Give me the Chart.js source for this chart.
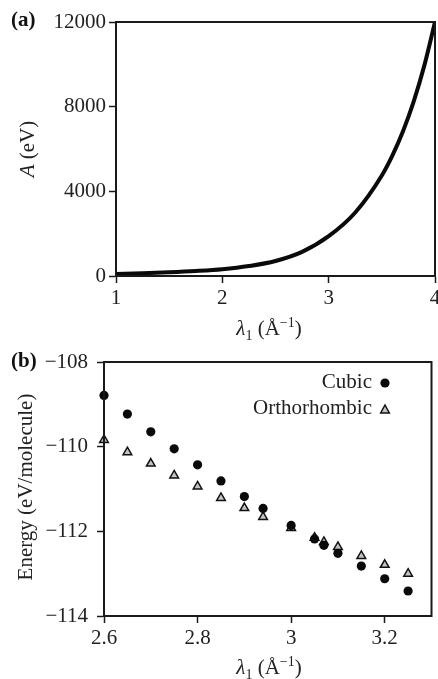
<!DOCTYPE html>
<html>
<head>
<meta charset="utf-8">
<script src="https://cdn.jsdelivr.net/npm/chart.js@4/dist/chart.umd.min.js"></script>
<style>
  html, body { margin: 0; padding: 0; background: #fff; }
  canvas { display: block; }
</style>
</head>
<body>
<canvas id="panelA" width="438" height="345"></canvas>
<canvas id="panelB" width="438" height="334"></canvas>
<script>
// ---- Panel (a): A versus lambda_1 ----
const lambdaA = [1.0, 1.25, 1.5, 1.75, 2.0, 2.25, 2.5, 2.75, 3.0, 3.25, 3.5, 3.6, 3.7, 3.8, 3.9, 4.0];
const valuesA = [100, 130, 175, 235, 320, 470, 710, 1140, 1880, 3000, 4750, 5700, 6850, 8250, 9950, 12000];
const ticksAx = [1, 2, 3, 4];
const ticksAy = [0, 4000, 8000, 12000];

// ---- Panel (b): energy per molecule versus lambda_1 ----
const lambdaB = [2.6, 2.65, 2.7, 2.75, 2.8, 2.85, 2.9, 2.94, 3.0, 3.05, 3.07, 3.1, 3.15, 3.2, 3.25];
const cubic = [-108.79, -109.23, -109.65, -110.05, -110.43, -110.81, -111.18, -111.46, -111.86, -112.18, -112.33, -112.52, -112.82, -113.12, -113.41];
const orthorhombic = [-109.84, -110.13, -110.40, -110.68, -110.94, -111.21, -111.45, -111.66, -111.92, -112.15, -112.25, -112.37, -112.58, -112.79, -113.00];
const ticksBx = [2.6, 2.8, 3.0, 3.2];
const ticksBy = [-114, -112, -110, -108];
const seriesNames = ['Cubic', 'Orthorhombic'];

const SERIF = '"Liberation Serif", "DejaVu Serif", serif';
const INK = '#1a1a1a';
const TEXT = '#222';

function fmt(v) {
  const s = String(Math.round(v * 100) / 100);
  return s.replace('-', '\u2212');
}

// draws a run of text pieces with different fonts / baseline shifts
function richWidth(ctx, parts) {
  let w = 0;
  for (const p of parts) { ctx.font = p.f; w += ctx.measureText(p.t).width; }
  return w;
}
function drawRich(ctx, parts, cx, cy) {
  const w = richWidth(ctx, parts);
  let x = cx - w / 2;
  ctx.textBaseline = 'alphabetic';
  ctx.textAlign = 'left';
  for (const p of parts) {
    ctx.font = p.f;
    ctx.fillText(p.t, x, cy + (p.dy || 0));
    x += ctx.measureText(p.t).width;
  }
}

const big = '21px ' + SERIF;
const bigIt = 'italic 21px ' + SERIF;
const small = '14px ' + SERIF;
const lambdaTitle = [
  { t: '\u03bb', f: bigIt },
  { t: '1', f: small, dy: 5 },
  { t: ' (\u00c5', f: big },
  { t: '\u22121', f: small, dy: -8 },
  { t: ')', f: big }
];

// frame, axis titles and panel letter
function decorations(opts) {
  return {
    id: 'decor',
    afterDraw(chart) {
      const ctx = chart.ctx;
      const a = chart.chartArea;
      ctx.save();
      ctx.strokeStyle = INK;
      ctx.lineWidth = 2;
      ctx.strokeRect(a.left, a.top, a.right - a.left, a.bottom - a.top);
      ctx.fillStyle = TEXT;
      drawRich(ctx, lambdaTitle, opts.xTitleX, opts.xTitleY);
      ctx.save();
      ctx.translate(opts.yTitleX, opts.yTitleY);
      ctx.rotate(-Math.PI / 2);
      drawRich(ctx, opts.yTitle, 0, 0);
      ctx.restore();
      ctx.font = 'bold 21px ' + SERIF;
      ctx.textAlign = 'left';
      ctx.textBaseline = 'middle';
      ctx.fillStyle = '#111';
      ctx.fillText(opts.letter, 11, opts.letterY);
      ctx.restore();
    }
  };
}

function axisStyle(ticks, padding, fitSize, isX) {
  return {
    type: 'linear',
    min: ticks[0],
    max: isX ? undefined : ticks[ticks.length - 1],
    afterBuildTicks(scale) { scale.ticks = ticks.map(v => ({ value: v })); },
    afterFit(scale) {
      if (isX) { scale.height = fitSize; } else { scale.width = fitSize; }
      scale.paddingLeft = 0; scale.paddingRight = 0;
      scale.paddingTop = 0; scale.paddingBottom = 0;
    },
    border: { display: true, color: INK, width: 2 },
    grid: { display: true, drawOnChartArea: false, drawTicks: true, tickLength: 7, tickWidth: 1.5, tickColor: INK },
    ticks: { color: TEXT, font: { family: SERIF, size: 21 }, padding: padding, maxRotation: 0, autoSkip: false, callback: v => fmt(v) },
    title: { display: false }
  };
}

// ---- chart (a) ----
const xA = axisStyle(ticksAx, 3, 69, true); xA.max = 4;
const yA = axisStyle(ticksAy, 3, 116, false);
new Chart(document.getElementById('panelA'), {
  type: 'line',
  data: {
    datasets: [{
      label: 'A',
      data: lambdaA.map((l, i) => ({ x: l, y: valuesA[i] })),
      borderColor: '#0a0a0a',
      borderWidth: 4,
      pointRadius: 0,
      cubicInterpolationMode: 'monotone',
      fill: false
    }]
  },
  options: {
    responsive: false,
    animation: false,
    layout: { padding: { left: 0, right: 3, top: 22, bottom: 0 } },
    plugins: { legend: { display: false }, tooltip: { enabled: false } },
    scales: { x: xA, y: yA }
  },
  plugins: [decorations({
    letter: '(a)', letterY: 21,
    xTitleX: 269, xTitleY: 335,
    yTitleX: 34, yTitleY: 149,
    yTitle: [{ t: 'A', f: bigIt }, { t: ' (eV)', f: big }]
  })]
});

// ---- chart (b) ----
const xB = axisStyle(ticksBx, 3, 63, true); xB.max = 3.3;
const yB = axisStyle(ticksBy, 9, 104, false);

const legendPlugin = {
  id: 'cornerLegend',
  afterDraw(chart) {
    const ctx = chart.ctx;
    const rows = [{ y: 37, my: 38 }, { y: 63, my: 65 }];
    ctx.save();
    chart.data.datasets.forEach((ds, i) => {
      ctx.font = big;
      ctx.fillStyle = TEXT;
      ctx.textAlign = 'right';
      ctx.textBaseline = 'middle';
      ctx.fillText(ds.label, 372, rows[i].y);
      const mx = 385, my = rows[i].my, r = ds.pointRadius;
      ctx.beginPath();
      if (ds.pointStyle === 'triangle') {
        ctx.moveTo(mx, my - r);
        ctx.lineTo(mx + r * 0.866, my + r * 0.5 + 0.5);
        ctx.lineTo(mx - r * 0.866, my + r * 0.5 + 0.5);
        ctx.closePath();
      } else {
        ctx.arc(mx, my, r, 0, Math.PI * 2);
      }
      ctx.fillStyle = ds.backgroundColor;
      ctx.fill();
      if (ds.borderWidth) { ctx.lineWidth = ds.borderWidth; ctx.strokeStyle = ds.borderColor; ctx.stroke(); }
    });
    ctx.restore();
  }
};

new Chart(document.getElementById('panelB'), {
  type: 'scatter',
  data: {
    datasets: [
      {
        label: seriesNames[0],
        data: lambdaB.map((l, i) => ({ x: l, y: cubic[i] })),
        pointStyle: 'circle',
        pointRadius: 4.6,
        backgroundColor: '#0a0a0a',
        borderColor: '#0a0a0a',
        borderWidth: 0
      },
      {
        label: seriesNames[1],
        data: lambdaB.map((l, i) => ({ x: l, y: orthorhombic[i] })),
        pointStyle: 'triangle',
        pointRadius: 5,
        backgroundColor: '#c4c4c4',
        borderColor: '#111',
        borderWidth: 1.5
      }
    ]
  },
  options: {
    responsive: false,
    animation: false,
    clip: false,
    layout: { padding: { left: 0, right: 3, top: 17, bottom: 0 } },
    plugins: { legend: { display: false }, tooltip: { enabled: false } },
    scales: { x: xB, y: yB }
  },
  plugins: [decorations({
    letter: '(b)', letterY: 17,
    xTitleX: 269, xTitleY: 329,
    yTitleX: 32, yTitleY: 142,
    yTitle: [{ t: 'Energy (eV/molecule)', f: big }]
  }), legendPlugin]
});
</script>
</body>
</html>
